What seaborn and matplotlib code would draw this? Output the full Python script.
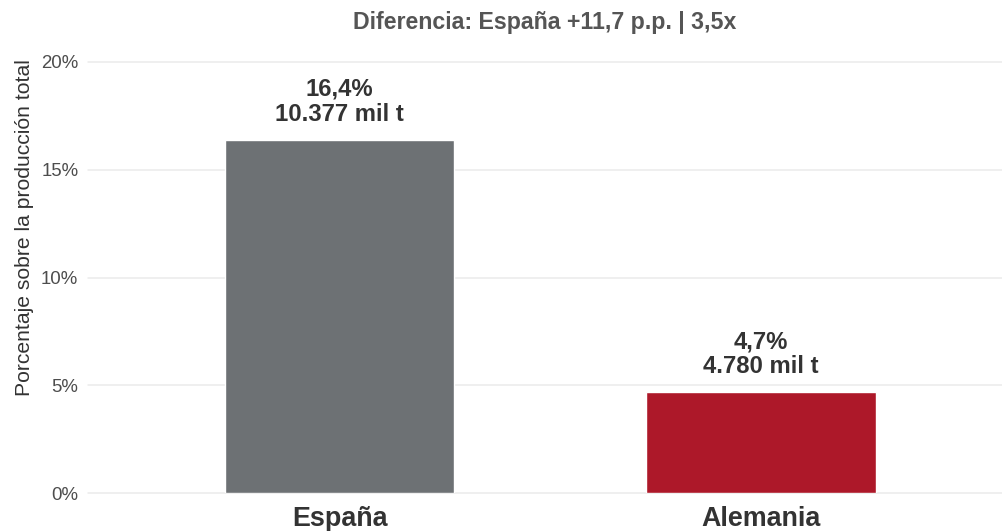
# -*- coding: utf-8 -*-
import pandas as pd
import seaborn as sns
import matplotlib.pyplot as plt
from matplotlib.ticker import FuncFormatter

# datos
paises = ['España', 'Alemania']
porcentajes = [16.4, 4.7]
miles_t = ['10.377', '4.780']
colores = ['#6D7174', '#AD1829']
titulo = 'Diferencia: España +11,7 p.p. | 3,5x'

df = pd.DataFrame({'pais': paises, 'pct': porcentajes})

sns.set_theme(style='white')
plt.rcParams['font.family'] = ['Liberation Sans', 'DejaVu Sans']

fig = plt.figure(figsize=(10.02, 5.31), dpi=100)
ax = fig.add_axes([88 / 1002, 38 / 531, (1002 - 88) / 1002, 431 / 531])

sns.barplot(data=df, x='pais', y='pct', hue='pais', palette=colores,
            width=0.545, legend=False, ax=ax, saturation=1)

ax.set_xlim(-0.597, 1.572)
ax.set_ylim(0, 20)
ax.set_yticks([0, 5, 10, 15, 20])
ax.yaxis.set_major_formatter(FuncFormatter(lambda v, p: f'{v:.0f}%'))
ax.grid(axis='y', color='#EBEBEB', linewidth=1.1, clip_on=False)
ax.set_axisbelow(True)
for s in ax.spines.values():
    s.set_visible(False)

ax.tick_params(axis='y', length=0, labelsize=13.4, labelcolor='#4D4D4D', pad=7)
ax.tick_params(axis='x', length=0, labelsize=19.4, labelcolor='#333333', pad=9)
for lab in ax.get_xticklabels():
    lab.set_fontweight('bold')

ax.set_xlabel('')
ax.set_ylabel('Porcentaje sobre la producción total', fontsize=15.2,
              color='#333333')
ax.yaxis.set_label_coords(-0.059, 0.615)

# etiquetas de barras
for i, (v, m) in enumerate(zip(porcentajes, miles_t)):
    txt = f'{v:.1f}%'.replace('.', ',') + f'\n{m} mil t'
    ax.annotate(txt, xy=(i, v), xytext=(0, 10), textcoords='offset points',
                ha='center', va='bottom', fontsize=17.2, fontweight='bold',
                color='#333333', linespacing=1.1)

fig.text((88 + 1002) / 2 / 1002, 1 - 22 / 531, titulo, ha='center', va='center',
         fontsize=16.7, fontweight='bold', color='#555555')

plt.savefig('out.png', dpi=100)
